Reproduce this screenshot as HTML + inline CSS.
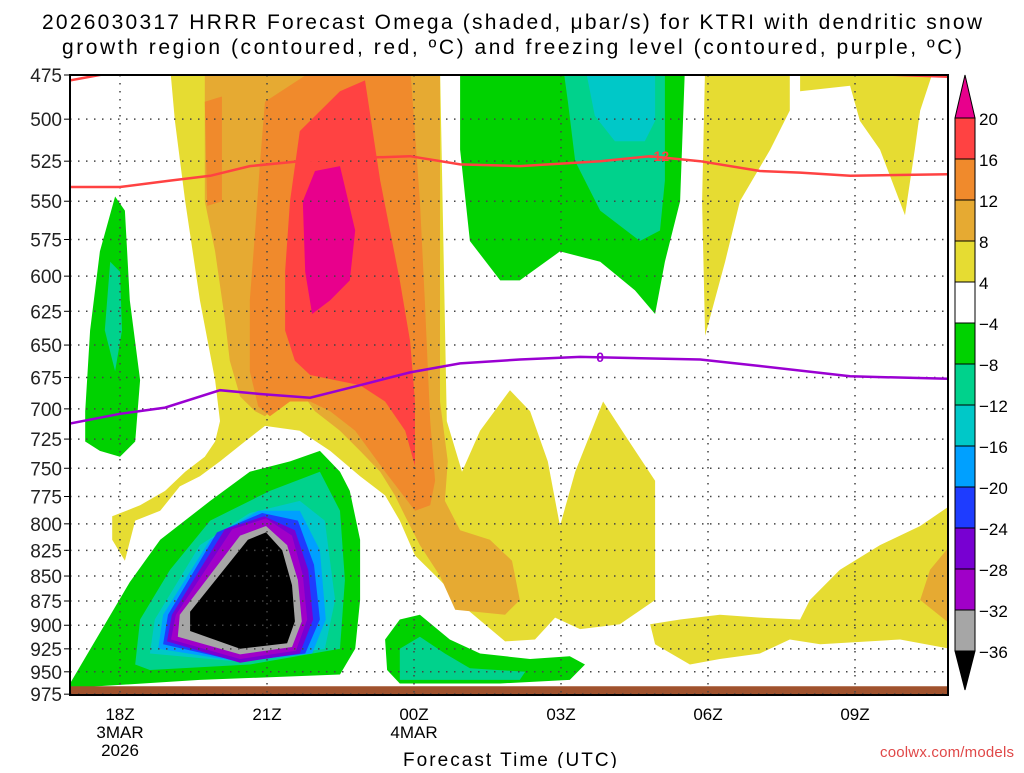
<!DOCTYPE html>
<html><head><meta charset="utf-8"><style>
body{margin:0;background:#fff;width:1024px;height:768px;overflow:hidden;font-family:"Liberation Sans",sans-serif}
svg text{font-family:"Liberation Sans",sans-serif}
</style></head><body>
<svg id="chart" width="1024" height="768" xmlns="http://www.w3.org/2000/svg">
<text x="512" y="29" font-size="21" text-anchor="middle" textLength="940" lengthAdjust="spacing">2026030317 HRRR Forecast Omega (shaded, μbar/s) for KTRI with dendritic snow</text>
<text x="512" y="54" font-size="21" text-anchor="middle" textLength="900" lengthAdjust="spacing">growth region (contoured, red, ºC) and freezing level (contoured, purple, ºC)</text>
<defs><clipPath id="pc"><rect x="70" y="75" width="878" height="620"/></clipPath></defs>
<g id="shade" clip-path="url(#pc)"></g>
<g id="grid"></g>
<g id="lines" clip-path="url(#pc)"></g>
<rect x="70" y="75" width="878" height="620" fill="none" stroke="#000" stroke-width="2"/>
<g id="axes"></g>
<g id="cbar"></g>
<text x="510" y="766" font-size="19" text-anchor="middle" textLength="214" lengthAdjust="spacing">Forecast Time (UTC)</text>
<text x="1014" y="757" font-size="15" fill="#e04848" text-anchor="end" textLength="134" lengthAdjust="spacing">coolwx.com/models</text>
</svg>
<script>
const pTicks=[475,500,525,550,575,600,625,650,675,700,725,750,775,800,825,850,875,900,925,950,975];
const tTicks=[0,3,6,9,12,15];
const tLabels=[["18Z","3MAR","2026"],["21Z"],["00Z","4MAR"],["03Z"],["06Z"],["09Z"]];
const cbLabels=["20","16","12","8","4","\u22124","\u22128","\u221212","\u221216","\u221220","\u221224","\u221228","\u221232","\u221236"];
const cbColors=["#ff4242","#f08a2c","#e6aa32","#e6dc32","#ffffff","#00d200","#00d28c","#00c8c8","#00a0ff","#1e3cff","#7800d2","#a000c8","#a6a6a6"];
const yellowMain=[[1.02,470],[6.53,470],[6.67,710],[6.98,753],[7.35,718],[7.96,685],[8.37,702],[8.73,744],[8.98,802],[9.29,753],[9.86,694],[10.31,722],[10.92,761],[10.92,874],[10.2,899],[9.39,904],[8.88,892],[8.47,915],[7.86,917],[7.14,886],[6.53,854],[6.02,830],[5.71,797],[5.41,774],[4.9,757],[4.29,735],[3.67,718],[2.96,714],[2.55,727],[2.04,744],[1.63,757],[1.22,766],[0.82,788],[0.31,797],[0.1,835],[-0.16,815],[-0.16,793],[0.41,783],[0.92,770],[1.33,753],[1.73,740],[1.94,727],[2.04,710],[1.94,677],[1.63,617],[1.33,550],[1.12,501]];
const yellowRight1=[[11.94,470],[13.67,470],[13.67,495],[13.27,518],[12.65,550],[12.35,590],[11.94,643],[11.88,550]];
const yellowRight2=[[13.88,470],[16.63,470],[16.33,495],[16.22,518],[16.02,559],[15.51,518],[15.1,501],[14.9,481],[13.88,484]];
const yellowLowRight=[[10.82,899],[11.43,894],[12.24,889],[13.06,892],[13.88,894],[14.08,874],[14.69,844],[15.51,820],[16.33,802],[16.95,783],[16.95,925],[15.92,915],[14.29,920],[13.67,915],[13.06,930],[12.24,936],[11.63,942],[10.92,920]];
const gold=[[1.73,470],[6.53,470],[6.53,694],[6.69,744],[6.63,779],[6.94,806],[7.55,815],[8,835],[8.16,874],[7.86,889],[6.84,884],[6.53,850],[6.12,820],[5.82,793],[5.61,774],[5.31,753],[4.9,735],[4.49,718],[3.98,702],[3.67,685],[3.27,694],[2.96,706],[2.76,702],[2.45,690],[2.24,662],[2.14,631],[1.94,583],[1.73,550]];
const orangeMain=[[2.96,490],[4.08,470],[5.92,470],[6.12,550],[6.22,617],[6.33,710],[6.43,761],[6.33,783],[6.02,788],[5.71,770],[5.41,753],[5.1,735],[4.8,718],[4.29,702],[3.88,694],[3.47,694],[3.06,706],[2.82,698],[2.65,670],[2.65,617],[2.76,569],[2.86,525]];
const orangeLobe=[[1.73,490],[2.08,487],[2.08,550],[1.78,553]];
const orangeRight=[[16.95,820],[16.53,844],[16.33,874],[16.95,899]];
const red=[[3.67,507],[4.49,484],[5,478],[5.31,537],[5.71,603],[5.92,647],[6.02,694],[6.02,748],[5.82,718],[5.41,694],[4.9,681],[4.39,677],[3.88,673],[3.57,662],[3.37,639],[3.37,597],[3.47,550]];
const magenta=[[3.98,531],[4.49,528],[4.8,569],[4.69,603],[4.29,617],[3.92,627],[3.78,597],[3.73,550]];
const greenLeft=[[-0.71,702],[-0.61,639],[-0.41,583],[-0.1,547],[0.1,556],[0.2,617],[0.41,677],[0.31,727],[0,740],[-0.41,735],[-0.71,727]];
const tealLeft=[[-0.2,590],[0,597],[0.04,639],[-0.1,670],[-0.31,639]];
const greenTop=[[6.94,470],[11.53,470],[11.43,550],[11.12,590],[10.92,627],[10.51,610],[9.8,590],[8.98,583],[8.16,603],[7.76,603],[7.14,576],[6.94,518]];
const tealTop=[[9.04,470],[11.12,470],[11.12,537],[11.02,569],[10.61,576],[9.8,556],[9.29,525],[9.14,490]];
const cyanTop=[[9.49,470],[10.92,470],[10.92,501],[10.71,513],[10.1,513],[9.69,498]];
const greenBot=[[-1.02,963],[0.2,856],[0.82,815],[1.84,779],[2.65,753],[3.47,744],[4.08,735],[4.49,753],[4.69,770],[4.9,815],[4.9,874],[4.8,925],[4.49,953],[1.63,959],[-1.02,968]];
const tealBot=[[0.41,894],[1.02,844],[1.84,797],[3.06,770],[4.08,753],[4.49,788],[4.59,854],[4.49,925],[2.65,942],[0.61,948],[0.31,942]];
const cyanBot=[[0.71,894],[1.63,820],[2.65,790],[3.67,779],[4.18,797],[4.39,874],[4.18,925],[2.45,939],[0.61,930]];
const skyBot=[[0.88,889],[1.84,815],[2.82,788],[3.67,788],[4.08,825],[4.2,894],[3.92,930],[2.45,939],[0.78,925]];
const blueBot=[[0.98,889],[1.98,808],[2.9,790],[3.63,797],[3.96,839],[4.08,894],[3.78,930],[2.45,939],[0.88,920]];
const purpleBot=[[1.06,889],[2.14,805],[2.94,793],[3.57,806],[3.84,844],[3.94,894],[3.67,930],[2.45,940],[0.96,917]];
const magPurBot=[[1.14,889],[2.29,805],[2.98,795],[3.51,811],[3.73,849],[3.82,894],[3.59,927],[2.45,936],[1.04,915]];
const grayBot=[[1.22,889],[2.45,811],[2.98,802],[3.41,820],[3.63,854],[3.71,896],[3.51,923],[2.45,931],[1.18,912]];
const blackBot=[[1.43,886],[2.61,815],[2.98,808],[3.31,825],[3.51,859],[3.57,896],[3.41,919],[2.45,925],[1.43,906]];
const green2=[[5.41,915],[5.71,894],[6.12,889],[6.73,915],[7.35,930],[8.37,936],[9.18,933],[9.49,942],[9.18,959],[7.76,963],[5.71,963],[5.45,948]];
const teal2=[[5.71,925],[6.12,912],[6.63,930],[7.14,946],[8.27,950],[8.16,959],[5.71,959]];
const ground=[[-1.1,966],[17,966],[17,980],[-1.1,980]];
const dgzLine=[[-1.02,541],[0,541],[1.02,537],[1.84,534],[2.65,528],[3.67,525],[4.9,523],[5.92,522],[6.94,527],[8.16,528],[9.8,525],[10.82,522],[11.84,525],[13.06,531],[13.88,532],[14.9,534],[16.9,533]];
const dgzTopL=[[-1.02,478],[0.2,472]];
const dgzTopR=[[13.27,472],[14.9,474],[16.9,476]];
const frzLine=[[-1.02,712],[0,704],[0.92,699],[2.04,685],[2.86,688],[3.88,691],[4.9,681],[5.92,671],[6.94,664],[8.16,661],[9.39,659],[11.84,661],[13.06,666],[14.9,674],[16.9,676]];

const X=t=>120+t*49;
const Y=p=>75+861*Math.log(p/475);
const NS="http://www.w3.org/2000/svg";
function mk(tag,parent,attrs){const e=document.createElementNS(NS,tag);for(const k in attrs)e.setAttribute(k,attrs[k]);parent.appendChild(e);return e;}
const pts=a=>a.map(d=>X(d[0]).toFixed(1)+","+Y(d[1]).toFixed(1)).join(" ");
const shade=document.getElementById("shade");
const layers=[["#e6dc32",yellowMain,"yellow-main"],["#e6dc32",yellowRight1,"yellow-right-1"],["#e6dc32",yellowRight2,"yellow-right-2"],["#e6dc32",yellowLowRight,"yellow-low-right"],
["#e6aa32",gold,"goldenrod-region"],["#f08a2c",orangeMain,"orange-main"],["#f08a2c",orangeLobe,"orange-lobe"],["#e6aa32",orangeRight,"goldenrod-right"],["#ff4242",red,"red-region"],["#e8008c",magenta,"magenta-core"],
["#00d200",greenLeft,"green-left"],["#00d28c",tealLeft,"teal-left"],["#00d200",greenTop,"green-top"],["#00d28c",tealTop,"teal-top"],["#00c8c8",cyanTop,"cyan-top"],
["#00d200",greenBot,"green-bottom"],["#00d28c",tealBot,"teal-bottom"],["#00c8c8",cyanBot,"cyan-bottom"],["#00a0ff",skyBot,"sky-bottom"],["#1e3cff",blueBot,"blue-bottom"],["#7800d2",purpleBot,"purple-bottom"],["#a000c8",magPurBot,"magenta-purple-bottom"],["#a6a6a6",grayBot,"gray-bottom"],["#000000",blackBot,"black-core"],
["#00d200",green2,"green-bottom-2"],["#00d28c",teal2,"teal-bottom-2"],["#a0522d",ground,"ground"]];
layers.forEach(l=>{const e=mk("polygon",shade,{points:pts(l[1]),fill:l[0],"stroke-linejoin":"round"});

});
const grid=document.getElementById("grid");
pTicks.forEach(p=>{const e=mk("line",grid,{x1:70,x2:948,y1:Y(p),y2:Y(p),stroke:"#444","stroke-width":1.5,"stroke-dasharray":"1.5 6.5"});

});
tTicks.forEach(t=>{const e=mk("line",grid,{x1:X(t),x2:X(t),y1:75,y2:695,stroke:"#444","stroke-width":1.5,"stroke-dasharray":"1.5 6.5"});

});
const lines=document.getElementById("lines");
[[dgzLine,"#ff4242","dgz-line"],[dgzTopL,"#ff4242","dgz-top-left"],[dgzTopR,"#ff4242","dgz-top-right"],[frzLine,"#9a00d2","freezing-line"]].forEach(l=>{
const e=mk("polyline",lines,{points:pts(l[0]),fill:"none",stroke:l[1],"stroke-width":2.5});

});
let e=mk("text",lines,{x:X(11),y:Y(522)+5,"font-size":14,fill:"#ff4242","text-anchor":"middle","font-weight":"bold"});e.textContent="-12";


e=mk("text",lines,{x:X(9.8),y:Y(659)+5,"font-size":14,fill:"#9a00d2","text-anchor":"middle","font-weight":"bold"});e.textContent="0";


const axes=document.getElementById("axes");
pTicks.forEach(p=>{const t=mk("text",axes,{x:62,y:Y(p)+7,"font-size":19,"text-anchor":"end",fill:"#222"});t.textContent=p;


const k=mk("line",axes,{x1:64,x2:70,y1:Y(p),y2:Y(p),stroke:"#000"});

});
tTicks.forEach((t,i)=>{tLabels[i].forEach((s,j)=>{const e=mk("text",axes,{x:X(t),y:720+j*18,"font-size":17,"text-anchor":"middle"});e.textContent=s;

});});
const cb=document.getElementById("cbar");
const cy0=118,ch=41;
e=mk("polygon",cb,{points:`955,${cy0} 975,${cy0} 965,75`,fill:"#e8008c",stroke:"#000"});


cbColors.forEach((c,i)=>{const r=mk("rect",cb,{x:955,y:cy0+i*ch,width:20,height:ch,fill:c,stroke:"#000"});

});
e=mk("polygon",cb,{points:`955,${cy0+13*ch} 975,${cy0+13*ch} 965,690`,fill:"#000",stroke:"#000"});


cbLabels.forEach((s,i)=>{const t=mk("text",cb,{x:979,y:cy0+i*ch+7,"font-size":17});t.textContent=s;

});
</script>
</body></html>
